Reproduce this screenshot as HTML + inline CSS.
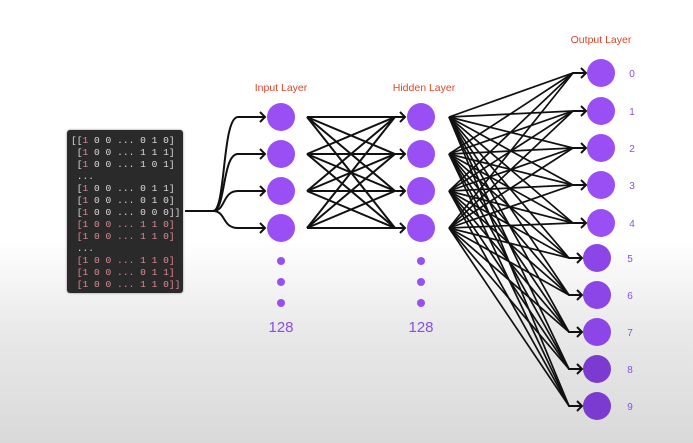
<!DOCTYPE html>
<html><head><style>
html,body{margin:0;padding:0}
body{width:693px;height:443px;overflow:hidden;background:linear-gradient(#fff 0,#fff 240px,#e9e9e9 330px,#d9d9d9 443px);position:relative;font-family:"Liberation Sans",sans-serif}
.code{position:absolute;left:67px;top:130px;width:116px;height:163px;background:#2a2a2a;border-radius:3px;box-shadow:0 0 2px #888}
.code pre{margin:0;position:absolute;left:4px;top:5px;font-family:"Liberation Mono",monospace;font-size:9.6px;line-height:12px;color:#ddd}
.r{color:#e08a95}
svg{position:absolute;left:0;top:0}
</style></head><body>
<div class="code"><pre>[[<span class="r">1</span> 0 0 ... 0 1 0]
 [<span class="r">1</span> 0 0 ... 1 1 1]
 [<span class="r">1</span> 0 0 ... 1 0 1]
 ...
 [<span class="r">1</span> 0 0 ... 0 1 1]
 [<span class="r">1</span> 0 0 ... 0 1 0]
 [<span class="r">1</span> 0 0 ... 0 0 0]]
<span class="r"> [1 0 0 ... 1 1 0]
 [1 0 0 ... 1 1 0]</span>
 ...
<span class="r"> [1 0 0 ... 1 1 0]
 [1 0 0 ... 0 1 1]
 [1 0 0 ... 1 1 0]]</span></pre></div>
<svg id="s" width="693" height="443" xmlns="http://www.w3.org/2000/svg">
<g font-family="Liberation Sans, sans-serif" font-size="10.5" fill="#e0452a" text-anchor="middle">
<text x="281" y="91">Input Layer</text>
<text x="424" y="91">Hidden Layer</text>
<text x="601" y="43">Output Layer</text>
</g>
<g fill="#8a4fe0" font-family="Liberation Sans, sans-serif" font-size="15" text-anchor="middle">
<text x="281" y="332">128</text><text x="421" y="332">128</text>
</g>
<g fill="#9a4ff5">
<circle cx="281" cy="261" r="4"/><circle cx="281" cy="282" r="4"/><circle cx="281" cy="303" r="4"/>
<circle cx="421" cy="261" r="4"/><circle cx="421" cy="282" r="4"/><circle cx="421" cy="303" r="4"/>
</g>
</svg>
<script>
var s=document.getElementById('s'),NS='http://www.w3.org/2000/svg';
function el(t,a){var e=document.createElementNS(NS,t);for(var k in a)e.setAttribute(k,a[k]);s.appendChild(e);return e;}
var L=[117,154,191,228],O=[73,111,148,185,223,258,295,332,369,406],Ox=[601,601,601,601,601,597,597,597,597,597];
var st={stroke:'#111','stroke-width':2,fill:'none'};
function arrow(x,y){el('path',Object.assign({d:'M'+(x-5)+' '+(y-5)+'L'+x+' '+y+'L'+(x-5)+' '+(y+5)},st));}
el('path',Object.assign({d:'M185 211H215'},st));
L.forEach(function(y){el('path',Object.assign({d:'M213 211C226 211 222 '+y+' 238 '+y+'H264'},st));arrow(265,y);});
L.forEach(function(a){L.forEach(function(b){el('path',Object.assign({d:'M307 '+a+'L395 '+b+'H404'},st));});arrow(405,a);});
L.forEach(function(a){O.forEach(function(b,i){el('path',Object.assign({d:'M449 '+a+'L'+(Ox[i]-28)+' '+b+'H'+(Ox[i]-16)},{stroke:'#111','stroke-width':1.7,fill:'none'}));});});
O.forEach(function(b,i){arrow(Ox[i]-15,b);});
L.forEach(function(y){el('circle',{cx:281,cy:y,r:14,fill:'#9a4ff5'});el('circle',{cx:421,cy:y,r:14,fill:'#9a4ff5'});});
O.forEach(function(y,i){var c=i<5?'#9a4ff5':(i<8?'#8c45e6':'#7b3bd0');el('circle',{cx:Ox[i],cy:y,r:14,fill:c});
var t=el('text',{x:i<5?632:630,y:y+4,'font-family':'Liberation Sans, sans-serif','font-size':10,fill:'#8a4fe0','text-anchor':'middle'});t.textContent=i;});
</script>
</body></html>
